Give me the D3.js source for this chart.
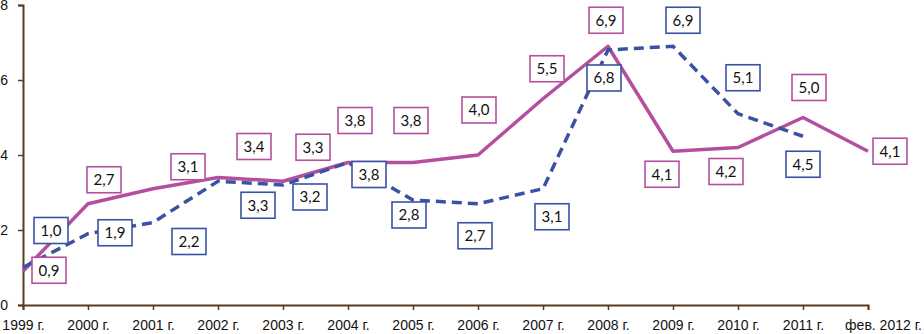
<!DOCTYPE html>
<html>
<head>
<meta charset="utf-8">
<script src="https://cdn.jsdelivr.net/npm/d3@7"></script>
<style>
  body { margin: 0; background: #fff; }
  svg { display: block; font-family: Lato, "Open Sans", sans-serif; }
</style>
</head>
<body>
<svg id="chart" width="924" height="334"></svg>
<script>
// categories and series
const years = ["1999 г.", "2000 г.", "2001 г.", "2002 г.", "2003 г.", "2004 г.", "2005 г.",
  "2006 г.", "2007 г.", "2008 г.", "2009 г.", "2010 г.", "2011 г.", "фев. 2012 г."];
const pinkValues = [0.9, 2.7, 3.1, 3.4, 3.3, 3.8, 3.8, 4.0, 5.5, 6.9, 4.1, 4.2, 5.0, 4.1];
const blueValues = [1.0, 1.9, 2.2, 3.3, 3.2, 3.8, 2.8, 2.7, 3.1, 6.8, 6.9, 5.1, 4.5];
const yTicks = [0, 2, 4, 6, 8];

// manual label offsets (px) from each point, like excel's dragged labels
const pinkLabelDx = [26, 16, 35, 36, 30, 7, -2, 1, 4, -2, -11, -12, 6, 22];
const pinkLabelDy = [-1, -24, -22, -31, -34, -42, -42, -45, -30, -26, 23, 24, -30, 0];
const blueLabelDx = [28, 27, 36, 40, 27, 21, -4, -3, 9, -4, 10, 5, 0];
const blueLabelDy = [-37, -1, 19, 24, 12, 12, 15, 32, 28, 28, -26, -36, 28];

const pinkColor = "#b44f9f";
const blueColor = "#3a52a4";
const axisColor = "#5b3a1d";

const svg = d3.select("#chart");

const x = d3.scalePoint()
    .domain(years)
    .range([23, 868]);

const y = d3.scaleLinear()
    .domain([0, 8])
    .range([305, 5]);

// y axis
const yAxis = svg.append("g")
    .attr("transform", "translate(23,0)")
    .call(d3.axisLeft(y).tickValues(yTicks).tickSize(5).tickPadding(10).tickFormat(d3.format("d")));
yAxis.select(".domain").attr("stroke", axisColor).attr("stroke-width", 2);
yAxis.selectAll(".tick line").attr("stroke", axisColor).attr("stroke-width", 1.5);
yAxis.selectAll("text")
    .attr("fill", "#111")
    .style("font-size", "14px");

// x axis
const xAxis = svg.append("g")
    .attr("transform", "translate(0,305)")
    .call(d3.axisBottom(x).tickSize(5).tickSizeOuter(5).tickPadding(10));
xAxis.select(".domain").attr("stroke", axisColor).attr("stroke-width", 2);
xAxis.selectAll(".tick line").attr("stroke", axisColor).attr("stroke-width", 1.5);
xAxis.selectAll("text")
    .attr("fill", "#111")
    .style("font-size", "14px");
// last label sits a bit to the right in the original
xAxis.selectAll(".tick text")
    .filter(d => d === years[years.length - 1])
    .attr("dx", 15);

const line = d3.line()
    .x((d, i) => x(years[i]))
    .y(d => y(d));

svg.append("path")
    .datum(pinkValues)
    .attr("d", line)
    .attr("fill", "none")
    .attr("stroke", pinkColor)
    .attr("stroke-width", 3.5)
    .attr("stroke-linejoin", "round");

svg.append("path")
    .datum(blueValues)
    .attr("d", line)
    .attr("fill", "none")
    .attr("stroke", blueColor)
    .attr("stroke-width", 3.5)
    .attr("stroke-dasharray", "10,6");

// data labels
function drawLabels(values, dxs, dys, color) {
    const g = svg.append("g")
        .selectAll("g")
        .data(values)
        .join("g")
        .attr("transform", (d, i) =>
            `translate(${x(years[i]) + dxs[i]},${y(d) + dys[i]})`);

    g.append("rect")
        .attr("x", -17)
        .attr("y", -13)
        .attr("width", 34)
        .attr("height", 26)
        .attr("fill", "white")
        .attr("stroke", color)
        .attr("stroke-width", 1.6);

    g.append("text")
        .attr("text-anchor", "middle")
        .attr("dy", "0.35em")
        .attr("fill", "#111")
        .style("font-size", "15px")
        .text(d => d3.format(".1f")(d).replace(".", ","));
}

drawLabels(pinkValues, pinkLabelDx, pinkLabelDy, pinkColor);
drawLabels(blueValues, blueLabelDx, blueLabelDy, blueColor);
</script>
</body>
</html>
